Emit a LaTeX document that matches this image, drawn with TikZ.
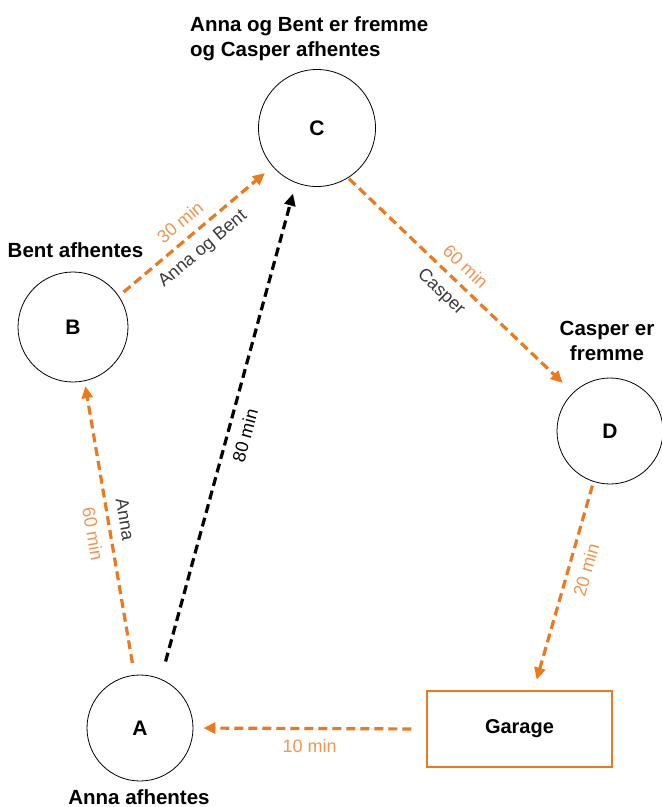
\documentclass[tikz,border=0pt]{standalone}
\usepackage{fontspec}
\setmainfont{Liberation Sans}
\usetikzlibrary{arrows.meta}
\definecolor{rute}{HTML}{EC7A1C}
\definecolor{rutetekst}{HTML}{F0954F}
\definecolor{navntekst}{HTML}{3A3A3A}

\begin{document}
\begin{tikzpicture}
  [x=1pt,y=-1pt,
   stop/.style={draw,circle,line width=0.8pt,inner sep=0pt,
     font=\fontsize{21}{25}\selectfont\bfseries},
   garagebox/.style={draw=rute,line width=1.5pt,minimum width=185pt,
     minimum height=76pt,font=\fontsize{20}{24}\selectfont\bfseries},
   status/.style={font=\fontsize{20.5}{25}\selectfont\bfseries,inner sep=0pt},
   route/.style={rute,line width=3.2pt,dash pattern=on 9pt off 5pt,
     -{Triangle[length=12pt,width=11pt]}},
   direct/.style={route,black},
   tid/.style={sloped,text=rutetekst,inner sep=9pt,
     font=\fontsize{18}{20}\selectfont},
   navn/.style={sloped,text=navntekst,inner sep=9pt,
     font=\fontsize{18}{20}\selectfont}]
  \useasboundingbox (0,0) rectangle (662,807);
  \node[stop,minimum size=106pt] (A) at (140,728) {A};
  \node[stop,minimum size=110pt] (B) at (73,327) {B};
  \node[stop,minimum size=117pt] (C) at (317,128) {C};
  \node[stop,minimum size=106pt] (D) at (610,431) {D};
  \node[garagebox] (garage) at (519.5,729) {Garage};
  % tekster ved stop
  \node[status,align=left,anchor=base west] (tC) at (190,56)
    {Anna og Bent er fremme\\og Casper afhentes};
  \node[status] (tB) at (75.5,250) {Bent afhentes};
  \node[status,align=center] (tD) at (607,341) {Casper er\\fremme};
  \node[status] (tA) at (139,797) {Anna afhentes};
  % ruter
  \draw[route,shorten <=12pt,shorten >=5pt] (A.96) -- (B.-78.5)
    node[tid,below,pos=0.49] {60 min}
    node[navn,above,pos=0.52] {Anna};
  \draw[direct,shorten <=18pt,shorten >=11pt] (A.67) -- (C.249)
    node[navn,below,text=black,pos=0.5] {80 min};
  \draw[route,shorten <=6pt,shorten >=10pt] (B.34) -- (C.221)
    node[tid,above,pos=0.47] {30 min}
    node[navn,below,pos=0.47] {Anna og Bent};
  \draw[route,shorten <=1pt,shorten >=14pt] (C.-58) -- (D.134)
    node[tid,above,pos=0.47] {60 min}
    node[navn,below,pos=0.47] {Casper};
  \draw[route,shorten <=4pt,shorten >=11pt] (D.-108) -- (garage.70)
    node[tid,below,pos=0.4] {20 min};
  \draw[route,shorten <=15pt,shorten >=10pt] (garage.west) -- (A.east)
    node[tid,below,pos=0.5] {10 min};
\end{tikzpicture}
\end{document}
